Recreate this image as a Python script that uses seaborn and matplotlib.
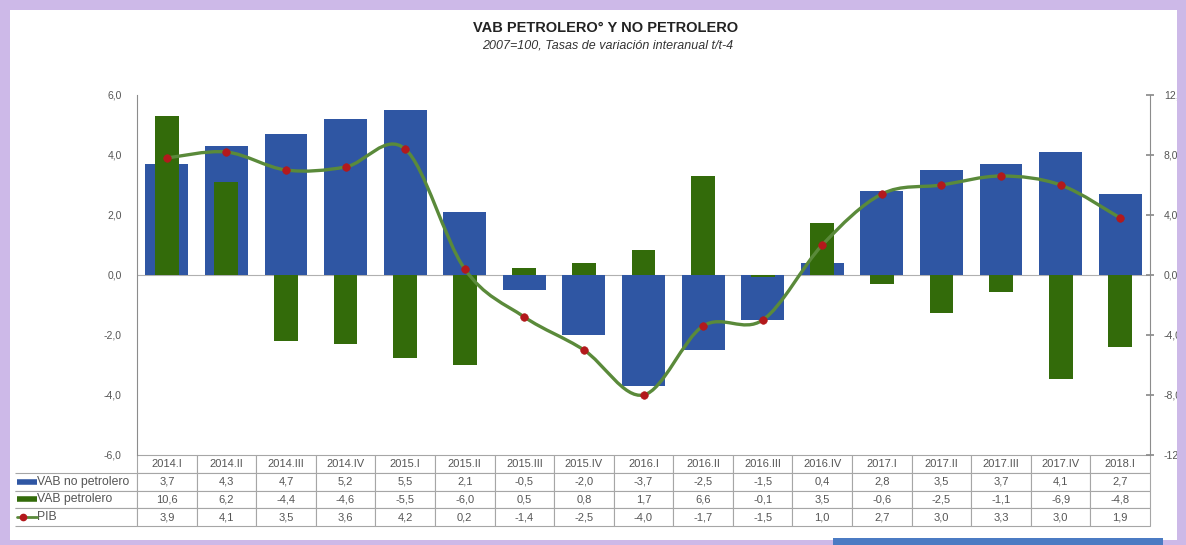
import numpy as np
import pandas as pd
import seaborn as sns
import matplotlib.pyplot as plt
from matplotlib.path import Path
from matplotlib.patches import PathPatch, Rectangle
from matplotlib.lines import Line2D

periodos = ['2014.I', '2014.II', '2014.III', '2014.IV', '2015.I', '2015.II', '2015.III', '2015.IV',
            '2016.I', '2016.II', '2016.III', '2016.IV', '2017.I', '2017.II', '2017.III', '2017.IV', '2018.I']
vab_no_petrolero = [3.7, 4.3, 4.7, 5.2, 5.5, 2.1, -0.5, -2.0, -3.7, -2.5, -1.5, 0.4, 2.8, 3.5, 3.7, 4.1, 2.7]
vab_petrolero = [10.6, 6.2, -4.4, -4.6, -5.5, -6.0, 0.5, 0.8, 1.7, 6.6, -0.1, 3.5, -0.6, -2.5, -1.1, -6.9, -4.8]
pib = [3.9, 4.1, 3.5, 3.6, 4.2, 0.2, -1.4, -2.5, -4.0, -1.7, -1.5, 1.0, 2.7, 3.0, 3.3, 3.0, 1.9]

series_names = ['VAB no petrolero', 'VAB petrolero', 'PIB']
left_ticks = [-6, -4, -2, 0, 2, 4, 6]
right_ticks = [-12, -8, -4, 0, 4, 8, 12]

BLUE = '#2f56a3'
GREEN = '#336b0a'
LINE = '#5a8a3a'
RED = '#b3191c'
GRAY = '#8c8c8c'
TXT = '#555555'


def fmt(v):
    return f'{v:.1f}'.replace('.', ',')


df = pd.DataFrame({'periodo': periodos, 'no_pet': vab_no_petrolero,
                   'pet': vab_petrolero, 'pib': pib})

sns.set_theme(style='white')
plt.rcParams['font.family'] = ['Liberation Sans', 'DejaVu Sans']

W, H = 1186, 545
fig = plt.figure(figsize=(W / 100, H / 100), dpi=100)
ax = fig.add_axes([137 / W, 90 / H, 1013 / W, 360 / H])

# blue bars, left axis
sns.barplot(data=df, x='periodo', y='no_pet', color=BLUE, saturation=1, width=0.72,
            linewidth=0, edgecolor='none', ax=ax)
ax.axhline(0, color='#b0b0b0', lw=0.8, zorder=0)

# green bars, right axis
ax2 = ax.twinx()
sns.barplot(data=df, x='periodo', y='pet', color=GREEN, saturation=1, width=0.40,
            linewidth=0, edgecolor='none', ax=ax2)

# PIB smoothed line, left scale, drawn on top
ax3 = ax.twinx()
n = len(pib)
pts = np.column_stack([np.arange(n), pib]).astype(float)
verts = [pts[0]]
codes = [Path.MOVETO]
for i in range(n - 1):
    p0, p1 = pts[max(i - 1, 0)], pts[i]
    p2, p3 = pts[i + 1], pts[min(i + 2, n - 1)]
    verts += [p1 + (p2 - p0) / 6, p2 - (p3 - p1) / 6, p2]
    codes += [Path.CURVE4] * 3
ax3.add_patch(PathPatch(Path(verts, codes), facecolor='none', edgecolor=LINE, lw=2.4, zorder=2))
sns.scatterplot(x=np.arange(n), y=pib, ax=ax3, color=RED, edgecolor=RED, s=30, zorder=3)

for a in (ax, ax2, ax3):
    a.set_xlim(-0.5, n - 0.5)
    a.set_xlabel('')
    a.set_ylabel('')
    a.tick_params(axis='x', length=0, labelbottom=False)
    for s in a.spines.values():
        s.set_visible(False)
    a.grid(False)

ax.set_ylim(-6, 6)
ax3.set_ylim(-6, 6)
ax2.set_ylim(-12, 12)

ax.set_yticks(left_ticks)
ax.set_yticklabels([fmt(v) for v in left_ticks])
ax.spines['left'].set_visible(True)
ax.spines['left'].set_color(GRAY)
ax.spines['left'].set_linewidth(0.8)
ax.tick_params(axis='y', length=0, color=GRAY, labelsize=7.5, labelcolor=TXT, pad=11)

ax2.set_yticks(right_ticks)
ax2.set_yticklabels([fmt(v) for v in right_ticks])
ax2.spines['right'].set_visible(True)
ax2.spines['right'].set_color(GRAY)
ax2.spines['right'].set_linewidth(0.8)
ax2.tick_params(axis='y', direction='inout', length=6, color=GRAY, labelsize=7.5,
                labelcolor=TXT, pad=7)
ax3.set_yticks([])

# data table under the plot
cell_text = [[''] + periodos]
cell_text.append([series_names[0]] + [fmt(v) for v in vab_no_petrolero])
cell_text.append([series_names[1]] + [fmt(v) for v in vab_petrolero])
cell_text.append([series_names[2]] + [fmt(v) for v in pib])
col_w = [122] + [1013 / n] * n
tbl = ax.table(cellText=cell_text, colWidths=col_w, cellLoc='center',
               bbox=[-122 / 1013, -71 / 360, 1135 / 1013, 71 / 360])
tbl.auto_set_font_size(False)
tbl.set_fontsize(8)
for (r, c), cell in tbl.get_celld().items():
    cell.set_edgecolor('#a6a6a6')
    cell.set_linewidth(0.8)
    cell.get_text().set_color(TXT)
    if c == 0:
        if r == 0:
            cell.visible_edges = ''
        else:
            cell.visible_edges = 'BRT'
            cell._loc = 'left'
            cell.get_text().set_ha('left')
            cell.get_text().set_fontsize(8.8)
            cell.PAD = 22 / 122

# legend keys in the row labels
row_h = 71 / 4
for i, key in enumerate(['bar_blue', 'bar_green', 'line']):
    yc = 1 - (455 + row_h * (i + 1.5)) / H
    if key == 'line':
        fig.add_artist(Line2D([17 / W, 37 / W], [yc, yc], color=LINE, lw=2))
        fig.add_artist(Line2D([23 / W], [yc], marker='o', ms=4.5, color=RED, lw=0))
    else:
        col = BLUE if key == 'bar_blue' else GREEN
        fig.add_artist(Line2D([17 / W, 37 / W], [yc, yc], color=col, lw=4, solid_capstyle='butt'))

# titles
fig.text(606 / W, 1 - 28 / H, 'VAB PETROLERO° Y NO PETROLERO', ha='center', va='center',
         fontsize=10.5, weight='bold', color='#222222')
fig.text(608 / W, 1 - 46 / H, '2007=100, Tasas de variación interanual t/t-4', ha='center',
         va='center', fontsize=9, style='italic', color='#333333')

# lavender frame around the picture
FRAME = '#cdb9e8'
for x0, y0, w, h in [(0, 0, 10, H), (W - 9, 0, 9, H), (0, H - 10, W, 10), (0, 0, W, 5)]:
    fig.add_artist(Rectangle((x0 / W, y0 / H), w / W, h / H, transform=fig.transFigure,
                             facecolor=FRAME, edgecolor='none', zorder=10))
fig.add_artist(Rectangle((833 / W, 0), 330 / W, 7 / H, transform=fig.transFigure,
                         facecolor='#4b7bc3', edgecolor='none', zorder=11))

fig.savefig('out.png', dpi=100)
